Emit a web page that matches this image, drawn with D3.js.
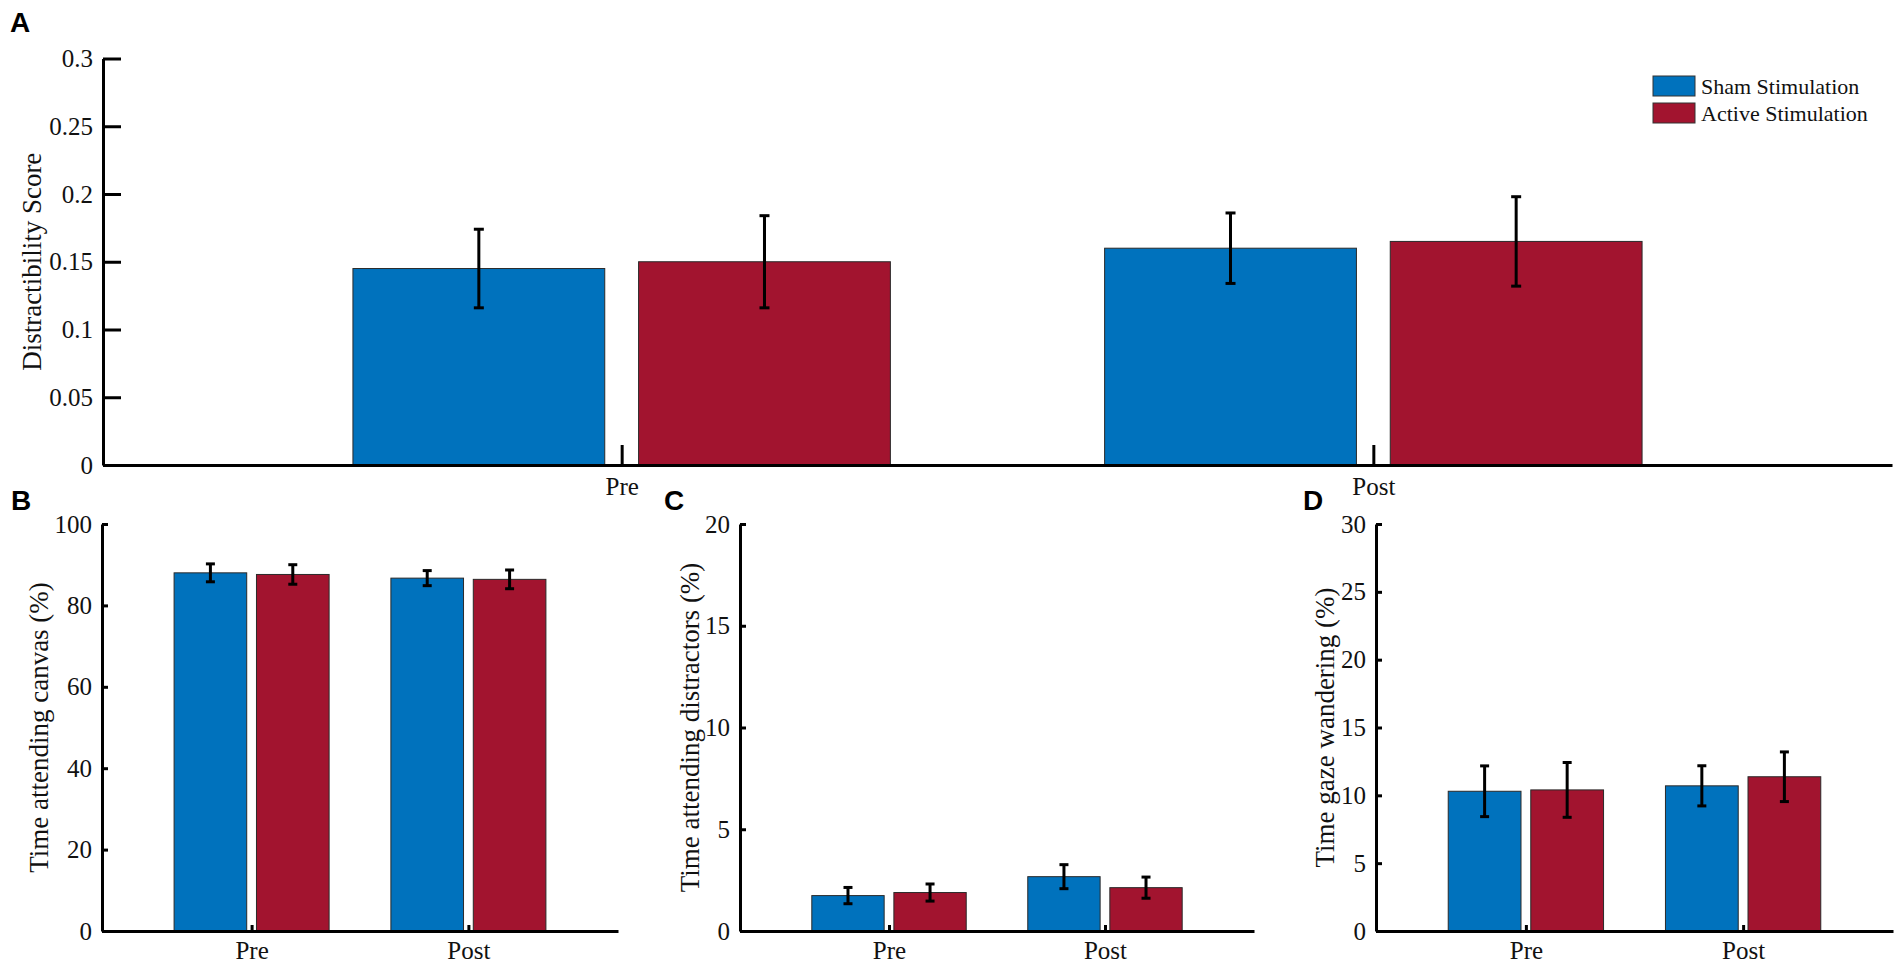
<!DOCTYPE html>
<html>
<head>
<meta charset="utf-8">
<script src="https://cdn.jsdelivr.net/npm/d3@7"></script>
<style>
  html, body { margin: 0; padding: 0; background: #fff; }
  svg { display: block; }
  .tick text { font-family: "Liberation Serif", "Times New Roman", serif; fill: #111; }
</style>
</head>
<body>
<svg id="fig" width="1902" height="972"></svg>
<script>
// ---- data ----
const groups = ["Pre", "Post"];
const seriesNames = ["Sham Stimulation", "Active Stimulation"];
const seriesColors = ["#0072BD", "#A2142F"];

// Panel A: Distractibility Score
const distractSham = [0.145, 0.160];
const distractShamErr = [0.029, 0.026];
const distractActive = [0.150, 0.165];
const distractActiveErr = [0.034, 0.033];
const distractTicks = [0, 0.05, 0.1, 0.15, 0.2, 0.25, 0.3];
const distractTickLabels = ["0", "0.05", "0.1", "0.15", "0.2", "0.25", "0.3"];

// Panel B: Time attending canvas (%)
const canvasSham = [88.0, 86.7];
const canvasShamErr = [2.2, 1.85];
const canvasActive = [87.6, 86.4];
const canvasActiveErr = [2.4, 2.3];
const canvasTicks = [0, 20, 40, 60, 80, 100];

// Panel C: Time attending distractors (%)
const distrSham = [1.74, 2.67];
const distrShamErr = [0.40, 0.59];
const distrActive = [1.89, 2.13];
const distrActiveErr = [0.42, 0.52];
const distrTicks = [0, 5, 10, 15, 20];

// Panel D: Time gaze wandering (%)
const gazeSham = [10.3, 10.7];
const gazeShamErr = [1.87, 1.48];
const gazeActive = [10.4, 11.37];
const gazeActiveErr = [2.02, 1.83];
const gazeTicks = [0, 5, 10, 15, 20, 25, 30];

// ---- drawing ----
const svg = d3.select("#fig");
const SERIF = '"Liberation Serif", "Times New Roman", serif';
const SANS = '"Liberation Sans", Arial, sans-serif';

function panel(cfg) {
  const g = svg.append("g");
  const x = d3.scaleLinear().domain([0.31, 2.69]).range([cfg.left, cfg.right]);
  const y = d3.scaleLinear().domain([0, cfg.ymax]).range([cfg.bottom, cfg.top]);
  const unit = x(1) - x(0);
  const barW = 0.335 * unit;
  const offs = [-0.19, 0.19];

  const rows = [];
  cfg.means.forEach((arr, s) => {
    arr.forEach((v, i) => rows.push({ s, i, v, e: cfg.errs[s][i] }));
  });

  // bars
  g.selectAll("rect.bar").data(rows).join("rect")
    .attr("class", "bar")
    .attr("x", d => x(d.i + 1 + offs[d.s]) - barW / 2)
    .attr("width", barW)
    .attr("y", d => y(d.v))
    .attr("height", d => y(0) - y(d.v))
    .attr("fill", d => seriesColors[d.s])
    .attr("stroke", "#2a2a2a")
    .attr("stroke-width", 1);

  // error bars
  const eb = g.selectAll("g.err").data(rows).join("g").attr("class", "err")
    .attr("stroke", "#000").attr("stroke-width", cfg.errW).attr("fill", "none");
  eb.append("line")
    .attr("x1", d => x(d.i + 1 + offs[d.s])).attr("x2", d => x(d.i + 1 + offs[d.s]))
    .attr("y1", d => y(d.v + d.e)).attr("y2", d => y(d.v - d.e));
  [1, -1].forEach(sign => {
    eb.append("line")
      .attr("x1", d => x(d.i + 1 + offs[d.s]) - cfg.cap)
      .attr("x2", d => x(d.i + 1 + offs[d.s]) + cfg.cap)
      .attr("y1", d => y(d.v + sign * d.e)).attr("y2", d => y(d.v + sign * d.e));
  });

  // y axis
  const yAxis = d3.axisLeft(y).tickValues(cfg.ticks)
    .tickFormat((d, i) => cfg.tickLabels ? cfg.tickLabels[i] : d3.format("d")(d))
    .tickSizeInner(-cfg.ytick).tickSizeOuter(0).tickPadding(cfg.ypad);
  const ya = g.append("g").attr("transform", `translate(${cfg.left},0)`).call(yAxis);
  ya.selectAll("text").style("font-size", cfg.fs + "px");

  // x axis
  const xAxis = d3.axisBottom(x).tickValues([1, 2]).tickFormat((d, i) => groups[i])
    .tickSizeInner(-cfg.xtick).tickSizeOuter(0).tickPadding(cfg.xpad);
  const xa = g.append("g").attr("transform", `translate(0,${cfg.bottom})`).call(xAxis);
  xa.selectAll("text").style("font-size", cfg.fs + "px");

  [ya, xa].forEach(a => {
    a.select("path.domain").attr("stroke", "#000").attr("stroke-width", 3);
    a.selectAll(".tick line").attr("stroke", "#000").attr("stroke-width", 3);
  });

  // y title
  g.append("text")
    .attr("transform", `translate(${cfg.titleX},${(cfg.top + cfg.bottom) / 2}) rotate(-90)`)
    .attr("text-anchor", "middle").attr("dominant-baseline", "central")
    .style("font-family", SERIF).style("font-size", cfg.tfs + "px").attr("fill", "#111")
    .text(cfg.title);

  // panel letter
  svg.append("text").attr("x", cfg.letterX).attr("y", cfg.letterY)
    .style("font-family", SANS).style("font-weight", "bold").style("font-size", "28px")
    .attr("fill", "#000").text(cfg.letter);
}

panel({
  left: 103, right: 1892, top: 58.5, bottom: 465, ymax: 0.3,
  means: [distractSham, distractActive], errs: [distractShamErr, distractActiveErr],
  ticks: distractTicks, tickLabels: distractTickLabels,
  ytick: 18, xtick: 20, ypad: 10, xpad: 12, fs: 25, tfs: 27, errW: 3, cap: 5,
  title: "Distractibility Score", titleX: 32, letter: "A", letterX: 10, letterY: 32
});
panel({
  left: 102, right: 618, top: 524, bottom: 931, ymax: 100,
  means: [canvasSham, canvasActive], errs: [canvasShamErr, canvasActiveErr],
  ticks: canvasTicks,
  ytick: 6, xtick: 6, ypad: 10, xpad: 10, fs: 25, tfs: 27, errW: 3, cap: 4.5,
  title: "Time attending canvas (%)", titleX: 39, letter: "B", letterX: 11, letterY: 510
});
panel({
  left: 740, right: 1254, top: 524, bottom: 931, ymax: 20,
  means: [distrSham, distrActive], errs: [distrShamErr, distrActiveErr],
  ticks: distrTicks,
  ytick: 6, xtick: 6, ypad: 10, xpad: 10, fs: 25, tfs: 27, errW: 3, cap: 4.5,
  title: "Time attending distractors (%)", titleX: 690, letter: "C", letterX: 664, letterY: 510
});
panel({
  left: 1376, right: 1893, top: 524, bottom: 931, ymax: 30,
  means: [gazeSham, gazeActive], errs: [gazeShamErr, gazeActiveErr],
  ticks: gazeTicks,
  ytick: 6, xtick: 6, ypad: 10, xpad: 10, fs: 25, tfs: 27, errW: 3, cap: 4.5,
  title: "Time gaze wandering (%)", titleX: 1325, letter: "D", letterX: 1303, letterY: 510
});

// legend
const leg = svg.append("g").attr("transform", "translate(1653,76)");
seriesNames.forEach((name, i) => {
  leg.append("rect").attr("x", 0).attr("y", i * 27).attr("width", 42).attr("height", 20)
    .attr("fill", seriesColors[i]).attr("stroke", "#333").attr("stroke-width", 1);
  leg.append("text").attr("x", 48).attr("y", i * 27 + 18)
    .style("font-family", SERIF).style("font-size", "22px").attr("fill", "#111")
    .text(name);
});
</script>
</body>
</html>
